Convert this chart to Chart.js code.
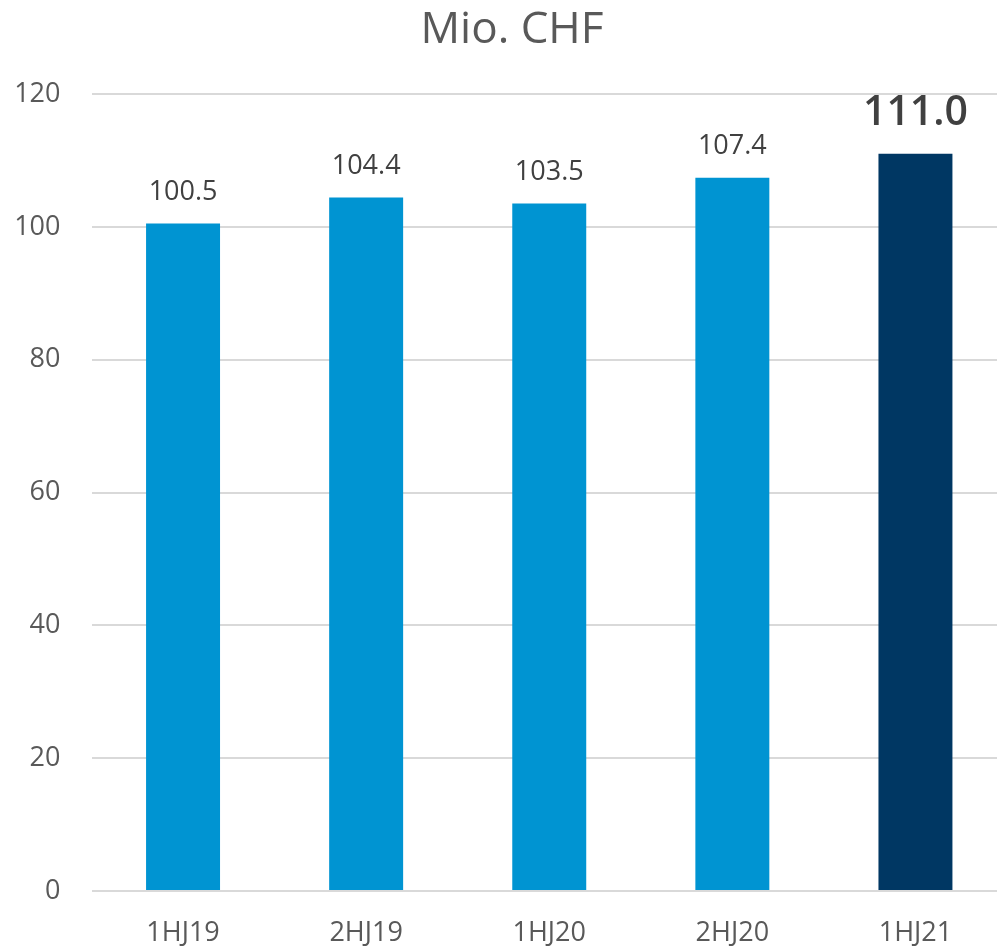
<!DOCTYPE html>
<html>
<head>
<meta charset="utf-8">
<script src="https://cdn.jsdelivr.net/npm/chart.js@4/dist/chart.umd.min.js"></script>
<style>
html,body{margin:0;padding:0;background:#fff;overflow:hidden;}
#wrap{width:1007px;height:949px;position:relative;}
</style>
</head>
<body>
<div id="wrap"><canvas id="c"></canvas></div>
<script>
const categories = ['1HJ19','2HJ19','1HJ20','2HJ20','1HJ21'];
const values = [100.5, 104.4, 103.5, 107.4, 111.0];
const valueLabels = ['100.5','104.4','103.5','107.4','111.0'];
const yTicks = [0,20,40,60,80,100,120];
const titleText = 'Mio. CHF';

const FONT = '"Open Sans", "Noto Sans", sans-serif';
const barColors = values.map((v,i)=> i === values.length-1 ? '#003763' : '#0094D2');

const labelPlugin = {
  id: 'valueLabels',
  afterDatasetsDraw(chart){
    const ctx = chart.ctx;
    const meta = chart.getDatasetMeta(0);
    ctx.save();
    ctx.textAlign = 'center';
    ctx.textBaseline = 'middle';
    meta.data.forEach((bar, i) => {
      const last = i === meta.data.length - 1;
      ctx.fillStyle = '#404040';
      ctx.font = last ? '600 41px ' + FONT : '400 27px ' + FONT;
      ctx.fillText(valueLabels[i], bar.x, bar.y - (last ? 40 : 31));
    });
    // title
    ctx.fillStyle = '#595959';
    ctx.font = '400 44px ' + FONT;
    ctx.fillText(titleText, 512, 30);
    ctx.restore();
  }
};

new Chart(document.getElementById('c'), {
  type: 'bar',
  data: {
    labels: categories,
    datasets: [{
      data: values,
      backgroundColor: barColors,
      borderWidth: 0,
      barPercentage: 0.404,
      categoryPercentage: 1.0
    }]
  },
  options: {
    responsive: true,
    maintainAspectRatio: false,
    animation: false,
    layout: { padding: { top: 94, left: 0, right: 0, bottom: 0 } },
    plugins: {
      legend: { display: false },
      tooltip: { enabled: false },
      title: { display: false }
    },
    scales: {
      x: {
        grid: { display: false, drawTicks: false },
        border: { display: false },
        ticks: {
          color: '#595959',
          font: { family: FONT, size: 27 },
          padding: 26,
          maxRotation: 0
        },
        afterFit(scale){ scale.height = 58; }
      },
      y: {
        min: 0,
        max: 120,
        afterBuildTicks(scale){ scale.ticks = yTicks.map(v => ({ value: v })); },
        grid: { color: '#d9d9d9', lineWidth: 2, drawTicks: false },
        border: { display: false },
        ticks: {
          color: '#595959',
          font: { family: FONT, size: 27 },
          padding: 31
        },
        afterFit(scale){ scale.width = 91.5; }
      }
    }
  },
  plugins: [labelPlugin]
});
</script>
</body>
</html>
